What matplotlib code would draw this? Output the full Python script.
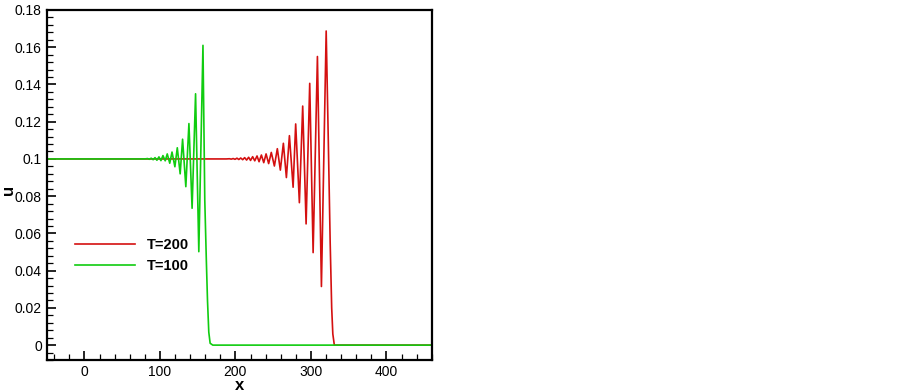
import matplotlib
matplotlib.use("Agg")
from matplotlib import pyplot as plt
from matplotlib.ticker import MultipleLocator

# T=200 wave train (x, u)
red_x = [-50, 188, 192, 194.5, 197, 199.5, 202, 204.5, 207, 209.6, 212.2, 214.8, 217.5, 220,
         222.8, 225.6, 228.6, 231.3, 234.4, 237.5, 240.6, 244, 247.5, 251.6, 255.5, 259.5,
         263.5, 267.5, 271.5, 276.4, 279.8, 284.7, 289.1, 293.6, 298.4, 302.9, 308.6, 313.9,
         320.2, 323, 325.5, 327.5, 329, 331, 460]
red_u = [0.1, 0.1, 0.1001, 0.0999, 0.1002, 0.0998, 0.1004, 0.0997, 0.1005, 0.0996, 0.1007,
         0.0994, 0.1009, 0.0992, 0.1012, 0.099, 0.1016, 0.0985, 0.1021, 0.098, 0.1027, 0.0975,
         0.1035, 0.0962, 0.1055, 0.094, 0.1084, 0.090, 0.1125, 0.0848, 0.1188, 0.0765, 0.1284,
         0.0651, 0.1406, 0.0497, 0.155, 0.0315, 0.1687, 0.11, 0.055, 0.02, 0.006, 0.0, 0.0]

# T=100 wave train
green_x = [-50, 80, 83.5, 86, 88.4, 91, 93.5, 96, 98.7, 101.3, 104, 107, 109.7, 113, 116,
           119.8, 123, 126.8, 130, 134.3, 138.4, 142.6, 147.2, 151.5, 157, 159.4, 161.5, 163,
           164.7, 166.5, 170, 460]
green_u = [0.1, 0.1, 0.1002, 0.0998, 0.1004, 0.0996, 0.1007, 0.0993, 0.1011, 0.0991, 0.1018,
           0.099, 0.1027, 0.0977, 0.1037, 0.0958, 0.106, 0.092, 0.1106, 0.0851, 0.119, 0.0735,
           0.135, 0.0502, 0.161, 0.078, 0.045, 0.024, 0.007, 0.001, 0.0, 0.0]

labels = ["T=200", "T=100"]

plt.rcParams["font.family"] = ["Liberation Sans", "DejaVu Sans"]

fig = plt.figure(figsize=(9.03, 3.92), dpi=100)
ax = fig.add_axes([0.0517, 0.0816, 0.4264, 0.8929])

ax.plot(red_x, red_u, color="#d41010", lw=1.2, label=labels[0])
ax.plot(green_x, green_u, color="#10cc10", lw=1.2, label=labels[1])

ax.set_xlim(-50, 460)
ax.set_ylim(-0.008, 0.18)
ax.xaxis.set_major_locator(MultipleLocator(100))
ax.xaxis.set_minor_locator(MultipleLocator(20))
ax.yaxis.set_major_locator(MultipleLocator(0.02))
ax.yaxis.set_minor_locator(MultipleLocator(0.004))
ax.yaxis.set_major_formatter(plt.FuncFormatter(lambda v, p: ("%g" % round(v, 3))))

ax.tick_params(which="both", direction="in", top=False, right=False, labelsize=10, width=1.2)
ax.tick_params(which="major", length=6.5)
ax.tick_params(which="minor", length=4.2, width=0.9)
for s in ax.spines.values():
    s.set_linewidth(1.6)

ax.set_xlabel("x", fontsize=12, fontweight="bold")
ax.set_ylabel("u", fontsize=12, fontweight="bold")
ax.xaxis.set_label_coords(0.5, -0.05)
ax.yaxis.set_label_coords(-0.079, 0.486)

leg = ax.legend(loc="upper left", bbox_to_anchor=(0.04, 0.385), frameon=False,
                prop={"weight": "bold", "size": 10.5}, handlelength=4.1, handletextpad=0.8,
                labelspacing=0.45)

fig.savefig("out.png", dpi=100)
